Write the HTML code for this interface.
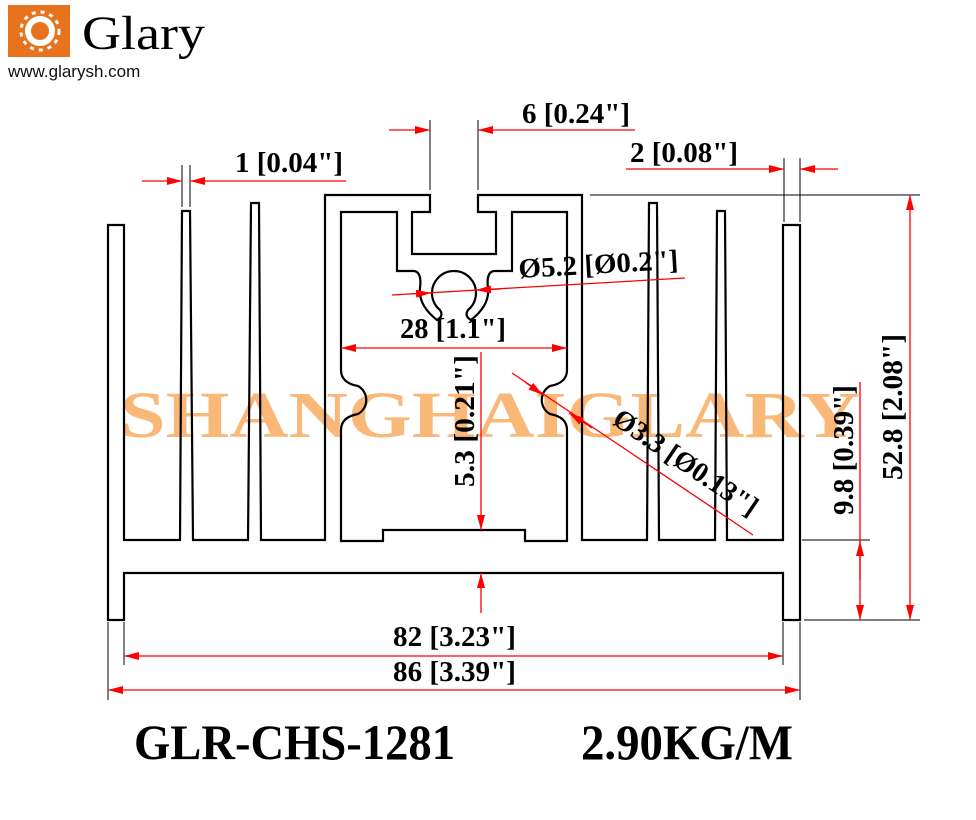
<!DOCTYPE html>
<html><head><meta charset="utf-8"><style>
html,body{margin:0;padding:0;background:#fff;}
svg{display:block;}
.d{font-family:"Liberation Serif",serif;font-weight:bold;font-size:28px;fill:#000;}
</style></head><body>
<svg width="976" height="820" viewBox="0 0 976 820" xmlns="http://www.w3.org/2000/svg">
<defs>
<marker id="a" viewBox="0 0 15 8" refX="15" refY="4" markerWidth="15" markerHeight="8" markerUnits="userSpaceOnUse" orient="auto-start-reverse"><path d="M0,0 L15,4 L0,8 Z" fill="#f00"/></marker>
</defs>
<!-- logo -->
<rect x="8" y="5" width="62" height="52" fill="#e8731f"/>
<circle cx="40" cy="31" r="12" fill="none" stroke="#fff" stroke-width="6"/>
<circle cx="40" cy="31" r="19" fill="none" stroke="#fff" stroke-width="3" stroke-dasharray="4 5"/>
<text x="82" y="49" font-family="Liberation Serif,serif" font-size="48" fill="#000" textLength="123" lengthAdjust="spacingAndGlyphs">Glary</text>
<text x="8" y="77" font-family="Liberation Sans,sans-serif" font-size="17" fill="#111">www.glarysh.com</text>

<!-- watermark -->
<text x="120" y="437" font-family="Liberation Serif,serif" font-weight="bold" font-size="66" fill="#f7a04a" fill-opacity="0.75" textLength="740" lengthAdjust="spacingAndGlyphs">SHANGHAIGLARY</text>

<!-- profile -->
<g fill="none" stroke="#000" stroke-width="2.2" stroke-linejoin="miter">
<path d="M108,620 V225 H124 V540 H180 L182,211 H190 L193,540 H248 L251,203 H259 L261,540 H325 V195 H430 V212 H412 V254 H496 V212 H478 V195 H582 V540 H647 L649,203 H657 L659,540 H715 L717,211 H725 L727,540 H783 V225 H800 V620 H783 V573 H124 V620 Z"/>
<path d="M341,212 H397 V271 H414 Q422,272 420,288 Q418,305 437,320 Q444,316 440,310 A22 22 0 1 1 468,310 Q464,316 471,320 Q490,305 488,288 Q486,272 494,271 H512 V212 H567 V370 Q567,383 550,386 A16 16 0 0 0 550,414 Q567,417 567,430 V541 H525 V530 H383 V541 H341 V430 Q341,417 358,414 A16 16 0 0 0 358,386 Q341,383 341,370 Z"/>
</g>

<!-- extension lines -->
<g stroke="#000" stroke-width="1">
<line x1="430" y1="120" x2="430" y2="190"/><line x1="478" y1="120" x2="478" y2="190"/>
<line x1="182" y1="165" x2="182" y2="207"/><line x1="190" y1="165" x2="190" y2="207"/>
<line x1="784" y1="158" x2="784" y2="222"/><line x1="800" y1="158" x2="800" y2="222"/>
<line x1="590" y1="195" x2="920" y2="195"/>
<line x1="802" y1="540" x2="870" y2="540"/>
<line x1="804" y1="620" x2="920" y2="620"/>
<line x1="124" y1="622" x2="124" y2="665"/><line x1="783" y1="622" x2="783" y2="665"/>
<line x1="108" y1="622" x2="108" y2="700"/><line x1="800" y1="622" x2="800" y2="700"/>
</g>

<!-- red dims -->
<g stroke="#f00" stroke-width="1.3" fill="none">
<line x1="389" y1="130" x2="430" y2="130" marker-end="url(#a)"/>
<line x1="635" y1="130" x2="478" y2="130" marker-end="url(#a)"/>
<line x1="142" y1="181" x2="182" y2="181" marker-end="url(#a)"/>
<line x1="346" y1="181" x2="190" y2="181" marker-end="url(#a)"/>
<line x1="626" y1="169" x2="784" y2="169" marker-end="url(#a)"/>
<line x1="838" y1="169" x2="800" y2="169" marker-end="url(#a)"/>
<line x1="392" y1="295" x2="685" y2="278"/>
<line x1="410" y1="294" x2="431" y2="293" marker-end="url(#a)"/>
<line x1="500" y1="289" x2="476" y2="290" marker-end="url(#a)"/>
<line x1="341" y1="348" x2="567" y2="348" marker-start="url(#a)" marker-end="url(#a)"/>
<line x1="481" y1="352" x2="481" y2="530" marker-end="url(#a)"/>
<line x1="481" y1="613" x2="481" y2="573" marker-end="url(#a)"/>
<line x1="512" y1="373" x2="753" y2="535"/>
<line x1="525" y1="382" x2="543" y2="395" marker-end="url(#a)"/>
<line x1="592" y1="428" x2="569" y2="413" marker-end="url(#a)"/>
<line x1="860" y1="382" x2="860" y2="620" marker-end="url(#a)"/>
<line x1="860" y1="580" x2="860" y2="541" marker-end="url(#a)"/>
<line x1="910" y1="195" x2="910" y2="620" marker-start="url(#a)" marker-end="url(#a)"/>
<line x1="124" y1="656" x2="783" y2="656" marker-start="url(#a)" marker-end="url(#a)"/>
<line x1="108" y1="690" x2="800" y2="690" marker-start="url(#a)" marker-end="url(#a)"/>
</g>

<!-- labels -->
<text class="d" x="522" y="123" textLength="108" lengthAdjust="spacingAndGlyphs">6 [0.24"]</text>
<text class="d" x="235" y="172" textLength="108" lengthAdjust="spacingAndGlyphs">1 [0.04"]</text>
<text class="d" x="630" y="162" textLength="108" lengthAdjust="spacingAndGlyphs">2 [0.08"]</text>
<text class="d" x="519" y="278" transform="rotate(-3.3 519 278)" textLength="160" lengthAdjust="spacingAndGlyphs">Ø5.2 [Ø0.2"]</text>
<text class="d" x="400" y="338" textLength="106" lengthAdjust="spacingAndGlyphs">28 [1.1"]</text>
<text class="d" transform="translate(474 487) rotate(-90)" x="0" y="0" textLength="132" lengthAdjust="spacingAndGlyphs">5.3 [0.21"]</text>
<text class="d" transform="translate(611 423) rotate(34)" x="0" y="0" textLength="168" lengthAdjust="spacingAndGlyphs">Ø3.3 [Ø0.13"]</text>
<text class="d" transform="translate(853 515) rotate(-90)" x="0" y="0" textLength="130" lengthAdjust="spacingAndGlyphs">9.8 [0.39"]</text>
<text class="d" transform="translate(902 480) rotate(-90)" x="0" y="0" textLength="146" lengthAdjust="spacingAndGlyphs">52.8 [2.08"]</text>
<text class="d" x="393" y="646" textLength="123" lengthAdjust="spacingAndGlyphs">82 [3.23"]</text>
<text class="d" x="393" y="681" textLength="123" lengthAdjust="spacingAndGlyphs">86 [3.39"]</text>
<text x="134" y="759" font-family="Liberation Serif,serif" font-weight="bold" font-size="50" textLength="321" lengthAdjust="spacingAndGlyphs">GLR-CHS-1281</text>
<text x="581" y="759" font-family="Liberation Serif,serif" font-weight="bold" font-size="50" textLength="212" lengthAdjust="spacingAndGlyphs">2.90KG/M</text>
</svg>
</body></html>
